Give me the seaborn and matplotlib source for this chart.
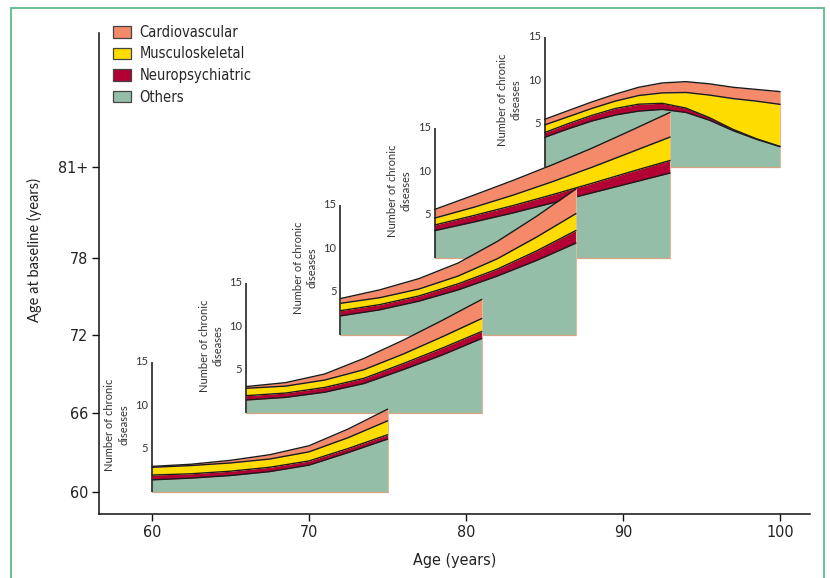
import numpy as np
import pandas as pd
import matplotlib
matplotlib.use("Agg")
import matplotlib.pyplot as plt
from matplotlib.patches import Patch, Rectangle
from matplotlib.font_manager import FontProperties
import seaborn as sns

# ---------------- data ----------------
categories = ["Cardiovascular", "Musculoskeletal", "Neuropsychiatric", "Others"]
stack_order = ["Others", "Neuropsychiatric", "Musculoskeletal", "Cardiovascular"]
baseline_labels = ["60", "66", "72", "78", "81+"]
panel_ticks = [5, 10, 15]

ages_60 = [60, 62.5, 65, 67.5, 70, 72.5, 75]
others_60 = [1.4, 1.6, 1.9, 2.35, 3.1, 4.55, 6.1]
neuro_60 = [0.55, 0.5, 0.5, 0.5, 0.48, 0.47, 0.5]
musc_60 = [0.9, 0.95, 0.95, 0.95, 1.05, 1.25, 1.6]
cardio_60 = [0.1, 0.15, 0.3, 0.5, 0.7, 1.0, 1.35]

ages_66 = [66, 68.5, 71, 73.5, 76, 78.5, 81]
others_66 = [1.5, 1.8, 2.4, 3.4, 5.0, 6.7, 8.6]
neuro_66 = [0.5, 0.5, 0.55, 0.6, 0.7, 0.8, 0.8]
musc_66 = [0.85, 0.8, 0.85, 1.0, 1.1, 1.3, 1.5]
cardio_66 = [0.2, 0.4, 0.7, 1.3, 1.6, 1.9, 2.2]

ages_72 = [72, 74.5, 77, 79.5, 82, 84.5, 87]
others_72 = [2.2, 2.9, 3.9, 5.2, 6.8, 8.6, 10.6]
neuro_72 = [0.6, 0.6, 0.6, 0.7, 0.8, 1.1, 1.45]
musc_72 = [0.85, 0.8, 0.8, 0.9, 1.2, 1.6, 1.95]
cardio_72 = [0.55, 0.9, 1.2, 1.5, 2.0, 2.4, 2.85]

ages_78 = [78, 80.5, 83, 85.5, 88, 90.5, 93]
others_78 = [3.15, 4.15, 5.2, 6.35, 7.5, 8.65, 9.8]
neuro_78 = [0.65, 0.75, 0.85, 0.95, 1.1, 1.3, 1.45]
musc_78 = [0.8, 0.95, 1.2, 1.5, 1.85, 2.25, 2.7]
cardio_78 = [1.0, 1.4, 1.7, 1.95, 2.2, 2.5, 2.85]

ages_81 = [85, 86.5, 88, 89.5, 91, 92.5, 94, 95.5, 97, 98.5, 100]
others_81 = [3.42, 4.4, 5.3, 6.0, 6.45, 6.65, 6.3, 5.4, 4.2, 3.2, 2.35]
neuro_81 = [0.55, 0.6, 0.65, 0.75, 0.8, 0.7, 0.5, 0.3, 0.15, 0.06, 0.03]
musc_81 = [0.88, 0.8, 0.8, 0.85, 1.0, 1.2, 1.8, 2.6, 3.55, 4.34, 4.85]
cardio_81 = [0.65, 0.7, 0.75, 0.8, 0.95, 1.15, 1.25, 1.3, 1.3, 1.35, 1.47]

panels = [
    (ages_60, others_60, neuro_60, musc_60, cardio_60),
    (ages_66, others_66, neuro_66, musc_66, cardio_66),
    (ages_72, others_72, neuro_72, musc_72, cardio_72),
    (ages_78, others_78, neuro_78, musc_78, cardio_78),
    (ages_81, others_81, neuro_81, musc_81, cardio_81),
]

# ---------------- style ----------------
colors = {"Cardiovascular": "#F48A69", "Musculoskeletal": "#FFDC00",
          "Neuropsychiatric": "#B20034", "Others": "#94BEA8"}
baseline_pos = [2.54, 11.65, 20.65, 29.53, 40.02]   # vertical layout of panels

sns.set_theme(style="ticks")
plt.rcParams["font.family"] = ["Lato", "DejaVu Sans"]


def narrow(size):
    return FontProperties(family="DejaVu Sans", stretch="condensed", size=size)


fig = plt.figure(figsize=(8.3, 5.78), dpi=100)
ax = fig.add_axes([99 / 830, 64 / 578, 711 / 830, 481 / 578])
ax.set_xlim(56.62, 101.91)
ax.set_ylim(0, 55.48)

for i, (ages, oth, neu, mus, car) in enumerate(panels):
    base = baseline_pos[i]
    z = 20 - 2 * i
    df = pd.DataFrame({"age": ages, "Others": oth, "Neuropsychiatric": neu,
                       "Musculoskeletal": mus, "Cardiovascular": car})
    x = df["age"].to_numpy()
    lower = np.full(len(x), base)
    for cat in stack_order:
        upper = lower + df[cat].to_numpy()
        ax.fill_between(x, lower, upper, color=colors[cat], lw=0, zorder=z)
        sns.lineplot(x=x, y=upper, color="#1c1c1c", lw=1.0, ax=ax,
                     zorder=z + 0.3, legend=False, sort=False)
        lower = upper
    # tan bottom and right edges
    ax.plot([x[0], x[-1]], [base, base], color="#D9A683", lw=0.9, zorder=z + 0.1)
    ax.plot([x[-1], x[-1]], [base, lower[-1]], color="#E3B99A", lw=0.8, zorder=z + 0.1)
    # panel axis
    ax.plot([x[0], x[0]], [base, base + 15], color="#222222", lw=1.2,
            zorder=z + 0.5, solid_capstyle="butt")
    for t in panel_ticks:
        ax.text(x[0] - 0.25, base + t, str(t), ha="right", va="center",
                fontsize=8, color="#333333", zorder=z + 0.5)
    ax.text(x[0] - 2.25, base + 7.8, "Number of chronic\ndiseases", rotation=90,
            ha="center", va="center", multialignment="center", fontsize=8,
            color="#333333", linespacing=1.3, zorder=z + 0.5)

ax.set_xticks([60, 70, 80, 90, 100])
ax.set_xticklabels(["60", "70", "80", "90", "100"], fontproperties=narrow(11.5))
ax.set_yticks(baseline_pos)
ax.set_yticklabels(baseline_labels, fontproperties=narrow(11.5))
ax.tick_params(direction="out", length=5, width=1, color="#111111", labelcolor="#222222", pad=3)
for s in ["left", "bottom"]:
    ax.spines[s].set_color("#111111")
    ax.spines[s].set_linewidth(1.1)
sns.despine(ax=ax)

ax.set_xlabel("Age (years)", fontproperties=narrow(11.5), color="#222222")
ax.xaxis.set_label_coords(0.5007, -0.081)
ax.set_ylabel("Age at baseline (years)", fontsize=10.5, color="#222222")
ax.yaxis.set_label_coords(-0.08, 0.549)

handles = [Patch(facecolor=colors[c], edgecolor="#444444", lw=0.9, label=c) for c in categories]
ax.legend(handles=handles, loc="upper left", bbox_to_anchor=(0.0197, 1.017),
          frameon=False, borderpad=0, borderaxespad=0, handlelength=1.25,
          handleheight=0.85, handletextpad=0.55, labelspacing=0.45,
          prop=narrow(10.5))

fig.add_artist(Rectangle((10.7 / 830, -0.01), 813.6 / 830, 0.9953,
                         transform=fig.transFigure, fill=False,
                         ec="#6FBF98", lw=1.5))

fig.savefig("out.png", dpi=100)
